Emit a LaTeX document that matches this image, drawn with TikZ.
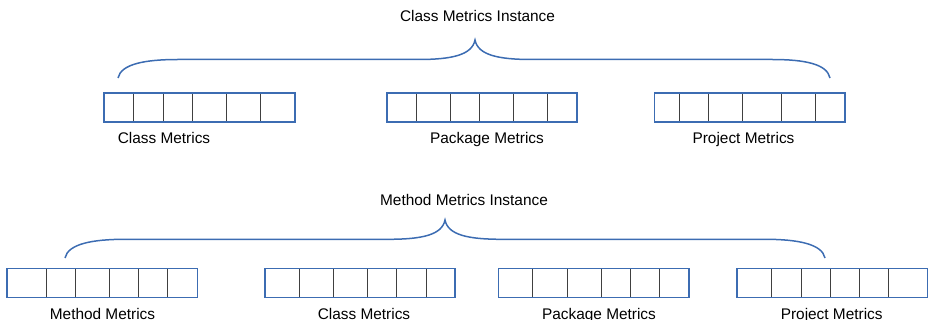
\documentclass[tikz,border=0pt]{standalone}
\usepackage{fontspec}
\setmainfont{Liberation Sans}
\definecolor{barblue}{RGB}{60,108,178}
\tikzset{bar/.style  = {draw=barblue, line width=1.6pt, minimum height=29pt, inner sep=0pt},
    cell/.style  = {draw=black!75, line width=0.9pt},
    brace/.style = {draw=barblue, line width=1.5pt},
    lbl/.style   = {anchor=base, inner sep=0pt, font=\fontsize{15.4}{18}\selectfont}}

\begin{document}
\begin{tikzpicture}[x=1pt, y=-1pt]
    \useasboundingbox (0,0) rectangle (928,320);

    % class metrics instance
    \node[lbl] (ctitle) at (477.5,21.5) {Class Metrics Instance};
    \foreach \x in {133.3,163,192.3,226.7,260.7} \draw[cell] (\x,93.3) -- (\x,122.3);
    \foreach \x in {416,450.3,479.7,513.7,547.7} \draw[cell] (\x,93.3) -- (\x,122.3);
    \foreach \x in {679,708.7,742.7,781.7,815.7} \draw[cell] (\x,93.3) -- (\x,122.3);
    \node[bar, minimum width=190.7pt] (ccls) at (199.4,107.8) {};
    \node[bar, minimum width=190.3pt] (cpkg) at (481.9,107.8) {};
    \node[bar, minimum width=190.7pt] (cprj) at (749.7,107.8) {};
    \node[lbl] (cclsl) at (164,143.3) {Class Metrics};
    \node[lbl] (cpkgl) at (487,143.3) {Package Metrics};
    \node[lbl] (cprjl) at (743.5,143.3) {Project Metrics};

    \coordinate (cl) at (118,78);
    \coordinate (ct) at (475,40);
    \coordinate (cr) at (830,78);
    \draw[brace] (cl) .. controls (121,64) and (145,59.5) .. (178,59.5) -- (418,59.5)
        .. controls (452,59.5) and (472,55) .. (ct)
        .. controls (478,55) and (498,59.5) .. (532,59.5) -- (772,59.5)
        .. controls (805,59.5) and (827,64) .. (cr);

    % method metrics instance
    \node[lbl] (mtitle) at (464,205.7) {Method Metrics Instance};
    \foreach \x in {46,75.3,109.3,138.3,167.7} \draw[cell] (\x,268.3) -- (\x,297.7);
    \foreach \x in {299.3,333.3,367.7,396.7,426} \draw[cell] (\x,268.3) -- (\x,297.7);
    \foreach \x in {532.7,567.3,601.3,630.7,659.7} \draw[cell] (\x,268.3) -- (\x,297.7);
    \foreach \x in {771.7,801,830,859,888.3} \draw[cell] (\x,268.3) -- (\x,297.7);
    \node[bar, minimum width=190.6pt] (mmth) at (102,283) {};
    \node[bar, minimum width=190pt]   (mcls) at (360,283) {};
    \node[bar, minimum width=190.7pt] (mpkg) at (593.7,283) {};
    \node[bar, minimum width=190.7pt] (mprj) at (832.3,283) {};
    \node[lbl] (mmthl) at (102.5,319) {Method Metrics};
    \node[lbl] (mclsl) at (364,319) {Class Metrics};
    \node[lbl] (mpkgl) at (599,319) {Package Metrics};
    \node[lbl] (mprjl) at (831.7,319) {Project Metrics};

    \coordinate (ml) at (65,258);
    \coordinate (mt) at (445,220);
    \coordinate (mr) at (825,258);
    \draw[brace] (ml) .. controls (68,244) and (92,239.3) .. (125,239.3) -- (388,239.3)
        .. controls (422,239.3) and (442,235) .. (mt)
        .. controls (448,235) and (468,239.3) .. (502,239.3) -- (765,239.3)
        .. controls (798,239.3) and (822,244) .. (mr);
\end{tikzpicture}
\end{document}
